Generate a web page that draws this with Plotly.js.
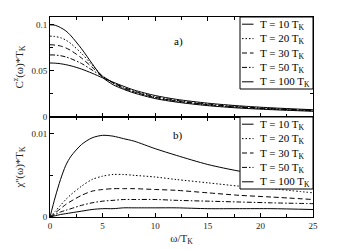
<!DOCTYPE html>
<html><head><meta charset="utf-8">
<script src="https://cdn.plot.ly/plotly-3.0.1.min.js"></script>
<style>html,body{margin:0;padding:0;background:#fff}#c{width:338px;height:250px}</style>
</head><body><div id="c"></div>
<script>
// omega / T_K sample points
const omega = [0, 0.5, 1, 1.5, 2, 3, 4, 5, 6, 7, 8, 10, 12, 15, 18, 21, 25];
const legendLabels = ['T = 10 T<sub>K</sub>', 'T = 20 T<sub>K</sub>', 'T = 30 T<sub>K</sub>', 'T = 50 T<sub>K</sub>', 'T = 100 T<sub>K</sub>'];

// panel a) C^z(omega)*T_K
const cT10  = [0.1000, 0.0995, 0.0970, 0.0935, 0.0880, 0.0740, 0.0580, 0.0430, 0.0350, 0.0300, 0.0260, 0.0200, 0.0162, 0.0123, 0.0097, 0.0080, 0.0062];
const cT20  = [0.0878, 0.0873, 0.0860, 0.0835, 0.0795, 0.0690, 0.0565, 0.0445, 0.0365, 0.0308, 0.0267, 0.0207, 0.0168, 0.0129, 0.0103, 0.0085, 0.0066];
const cT30  = [0.0784, 0.0780, 0.0770, 0.0750, 0.0720, 0.0640, 0.0540, 0.0445, 0.0370, 0.0313, 0.0272, 0.0212, 0.0174, 0.0134, 0.0107, 0.0088, 0.0069];
const cT50  = [0.0674, 0.0672, 0.0665, 0.0652, 0.0632, 0.0580, 0.0510, 0.0440, 0.0375, 0.0322, 0.0280, 0.0220, 0.0181, 0.0140, 0.0112, 0.0092, 0.0073];
const cT100 = [0.0586, 0.0584, 0.0578, 0.0568, 0.0555, 0.0520, 0.0475, 0.0425, 0.0378, 0.0333, 0.0292, 0.0233, 0.0192, 0.0150, 0.0121, 0.0100, 0.0079];

// panel b) chi''(omega)*T_K
const xT10  = [0, 0.0024, 0.0045, 0.0062, 0.0073, 0.0087, 0.0095, 0.0098, 0.0097, 0.0094, 0.0091, 0.0082, 0.0074, 0.0063, 0.0055, 0.0049, 0.0043];
const xT20  = [0, 0.0007, 0.0014, 0.0021, 0.0027, 0.0037, 0.0045, 0.0049, 0.0051, 0.0051, 0.0050, 0.0048, 0.0045, 0.0041, 0.0037, 0.0034, 0.0029];
const xT30  = [0, 0.0005, 0.0010, 0.0015, 0.0019, 0.0026, 0.0031, 0.0033, 0.0034, 0.0034, 0.0034, 0.0033, 0.0032, 0.0029, 0.0026, 0.0024, 0.0021];
const xT50  = [0, 0.0003, 0.0006, 0.0008, 0.0010, 0.0014, 0.0017, 0.0019, 0.0020, 0.0021, 0.0021, 0.0021, 0.0020, 0.0019, 0.0018, 0.0017, 0.0016];
const xT100 = [0, 0.00015, 0.0003, 0.0004, 0.0005, 0.0007, 0.0009, 0.0010, 0.0010, 0.0011, 0.0011, 0.0011, 0.0011, 0.0010, 0.0010, 0.0010, 0.0009];

const dashes = ['solid', '1.5px,2px', '5px,3px', '5px,2px,1.5px,2px', 'solid'];
const cSeries = [cT10, cT20, cT30, cT50, cT100];
const xSeries = [xT10, xT20, xT30, xT50, xT100];

const traces = [];
cSeries.forEach((ys, i) => traces.push({
  x: omega, y: ys, xaxis: 'x2', yaxis: 'y2', type: 'scatter', mode: 'lines',
  line: {color: '#000', width: 1, dash: dashes[i], shape: 'spline', smoothing: 0.8},
  showlegend: false, hoverinfo: 'skip'
}));
xSeries.forEach((ys, i) => traces.push({
  x: omega, y: ys, xaxis: 'x', yaxis: 'y', type: 'scatter', mode: 'lines',
  line: {color: '#000', width: 1, dash: dashes[i], shape: 'spline', smoothing: 0.8},
  showlegend: false, hoverinfo: 'skip'
}));

const font = 'Liberation Serif, Times New Roman, serif';
const tickfont = {family: font, size: 9, color: '#222'};
const axBase = {
  showline: true, linecolor: '#000', linewidth: 1, mirror: 'ticks',
  ticks: 'inside', ticklen: 4, tickcolor: '#000', tickwidth: 1,
  showgrid: false, zeroline: false, tickfont: tickfont, automargin: false
};

// custom legend boxes (paper coordinates)
const shapes = [];
const annotations = [];
function pxX(p) { return (p - 50) / 263; }
function pxY(p) { return (217 - p) / 200; }
function addLegend(topPx, botPx) {
  shapes.push({type: 'rect', xref: 'paper', yref: 'paper', x0: pxX(240), x1: 1, y0: pxY(botPx), y1: pxY(topPx),
    line: {color: '#000', width: 1}, fillcolor: '#fff', layer: 'above'});
  const step = (botPx - topPx) / 5;
  for (let i = 0; i < 5; i++) {
    const cy = topPx + step * (i + 0.5);
    shapes.push({type: 'line', xref: 'paper', yref: 'paper', x0: pxX(242), x1: pxX(253.5), y0: pxY(cy), y1: pxY(cy),
      line: {color: '#000', width: 1, dash: dashes[i]}, layer: 'above'});
    annotations.push({xref: 'paper', yref: 'paper', x: pxX(257.5), y: pxY(cy + 0.5), xanchor: 'left', yanchor: 'middle',
      text: legendLabels[i], showarrow: false, font: {family: font, size: 11, color: '#000'}});
  }
}
addLegend(17, 89);
addLegend(117, 189);
annotations.push({xref: 'paper', yref: 'paper', x: pxX(178), y: pxY(33), text: 'a)', showarrow: false,
  font: {family: font, size: 11, color: '#000'}});
annotations.push({xref: 'paper', yref: 'paper', x: pxX(178), y: pxY(135), text: 'b)', showarrow: false,
  font: {family: font, size: 11, color: '#000'}});

const layout = {
  width: 338, height: 250,
  margin: {l: 50, r: 25, t: 17, b: 33},
  paper_bgcolor: '#fff', plot_bgcolor: '#fff',
  showlegend: false,
  xaxis: Object.assign({}, axBase, {domain: [0, 1], anchor: 'y', range: [0, 25], dtick: 5,
    minor: {dtick: 2.5, ticks: 'inside', ticklen: 3, tickcolor: '#000'},
    title: {text: 'ω/T<sub>K</sub>', font: {family: font, size: 11, color: '#222'}, standoff: 4}}),
  yaxis: Object.assign({}, axBase, {domain: [0, 0.5], anchor: 'x', range: [0, 0.012], dtick: 0.01,
    minor: {dtick: 0.005, ticks: 'inside', ticklen: 3, tickcolor: '#000'},
    title: {text: 'χ\'\'(ω)*T<sub>K</sub>', font: {family: font, size: 11, color: '#222'}, standoff: 5}}),
  xaxis2: Object.assign({}, axBase, {domain: [0, 1], anchor: 'y2', range: [0, 25], dtick: 5, matches: 'x',
    showticklabels: false,
    minor: {dtick: 2.5, ticks: 'inside', ticklen: 3, tickcolor: '#000'}}),
  yaxis2: Object.assign({}, axBase, {domain: [0.5, 1], anchor: 'x2', range: [0, 0.1085], dtick: 0.05,
    minor: {dtick: 0.025, ticks: 'inside', ticklen: 3, tickcolor: '#000'},
    title: {text: 'C<sup>z</sup>(ω)*T<sub>K</sub>', font: {family: font, size: 11, color: '#222'}, standoff: 5}}),
  shapes: shapes,
  annotations: annotations
};

Plotly.newPlot('c', traces, layout, {staticPlot: true, displayModeBar: false});
</script>
</body></html>
